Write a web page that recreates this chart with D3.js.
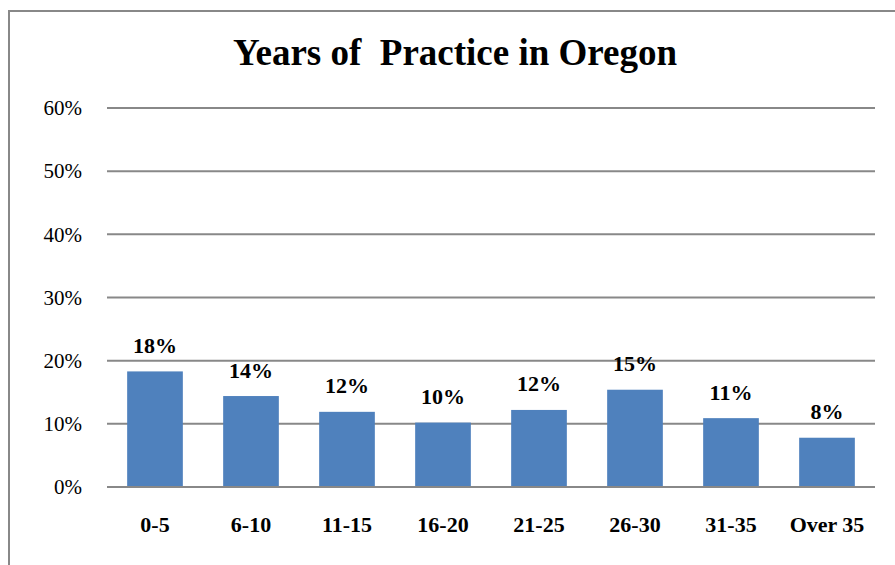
<!DOCTYPE html>
<html>
<head>
<meta charset="utf-8">
<script src="https://cdn.jsdelivr.net/npm/d3@7"></script>
<style>
  body { margin: 0; background: #fff; }
  svg { display: block; }
</style>
</head>
<body>
<div id="chart"></div>
<script>
const categories = ['0-5', '6-10', '11-15', '16-20', '21-25', '26-30', '31-35', 'Over 35'];
const shares = [0.183, 0.144, 0.119, 0.102, 0.122, 0.154, 0.109, 0.078];
const share_labels = ['18%', '14%', '12%', '10%', '12%', '15%', '11%', '8%'];
const y_ticks = [0, 0.1, 0.2, 0.3, 0.4, 0.5, 0.6];

const width = 895;
const height = 565;
const bar_color = '#4f81bd';
const grid_color = '#888888';
const serif = "'Liberation Serif', 'DejaVu Serif', serif";

const plot = { left: 107, right: 875, top: 108, bottom: 487 };

const svg = d3.select('#chart').append('svg')
  .attr('width', width)
  .attr('height', height)
  .style('font-family', serif);

// chart area frame (only top and left edges are inside the picture)
svg.append('path')
  .attr('d', `M9,${height + 2} L9,11 L${width + 2},11`)
  .attr('fill', 'none')
  .attr('stroke', grid_color)
  .attr('stroke-width', 2);

const x = d3.scaleBand()
  .domain(categories)
  .range([plot.left, plot.right])
  .paddingInner(0.42)
  .paddingOuter(0.21);

const y = d3.scaleLinear()
  .domain([0, 0.6])
  .range([plot.bottom, plot.top]);

// gridlines
svg.append('g')
  .selectAll('line')
  .data(y_ticks)
  .join('line')
  .attr('x1', plot.left)
  .attr('x2', plot.right)
  .attr('y1', d => y(d))
  .attr('y2', d => y(d))
  .attr('stroke', grid_color)
  .attr('stroke-width', 2);

// y axis labels
const yAxis = d3.axisLeft(y)
  .tickValues(y_ticks)
  .tickFormat(d3.format('.0%'))
  .tickSize(0)
  .tickPadding(25);

const y_axis_g = svg.append('g')
  .attr('transform', `translate(${plot.left},0)`)
  .call(yAxis)
  .attr('font-family', null)
  .attr('font-size', null);
y_axis_g.select('.domain').remove();
y_axis_g.selectAll('text')
  .style('font-family', serif)
  .style('font-size', '21px')
  .attr('fill', '#000');

// bars
svg.append('g')
  .selectAll('rect')
  .data(shares)
  .join('rect')
  .attr('x', (d, i) => x(categories[i]))
  .attr('width', x.bandwidth())
  .attr('y', d => y(d))
  .attr('height', d => y(0) - y(d))
  .attr('fill', bar_color);

// redraw baseline above bars
svg.append('line')
  .attr('x1', plot.left)
  .attr('x2', plot.right)
  .attr('y1', y(0))
  .attr('y2', y(0))
  .attr('stroke', grid_color)
  .attr('stroke-width', 2);

// value labels
svg.append('g')
  .selectAll('text')
  .data(shares)
  .join('text')
  .attr('x', (d, i) => x(categories[i]) + x.bandwidth() / 2)
  .attr('y', d => y(d) - 18.5)
  .attr('text-anchor', 'middle')
  .style('font-family', serif)
  .style('font-size', '22px')
  .style('font-weight', 'bold')
  .text((d, i) => share_labels[i]);

// category labels
const xAxis = d3.axisBottom(x)
  .tickSize(0)
  .tickPadding(0);

const x_axis_g = svg.append('g')
  .attr('transform', `translate(0,${plot.bottom})`)
  .call(xAxis)
  .attr('font-family', null)
  .attr('font-size', null);
x_axis_g.select('.domain').remove();
x_axis_g.selectAll('text')
  .attr('dy', null)
  .attr('y', 45)
  .attr('fill', '#000')
  .style('font-family', serif)
  .style('font-size', '22px')
  .style('font-weight', 'bold');

// title
svg.append('text')
  .attr('x', 455)
  .attr('y', 65)
  .attr('text-anchor', 'middle')
  .attr('xml:space', 'preserve')
  .style('font-family', serif)
  .style('font-size', '37px')
  .style('font-weight', 'bold')
  .text('Years of  Practice in Oregon');
</script>
</body>
</html>
